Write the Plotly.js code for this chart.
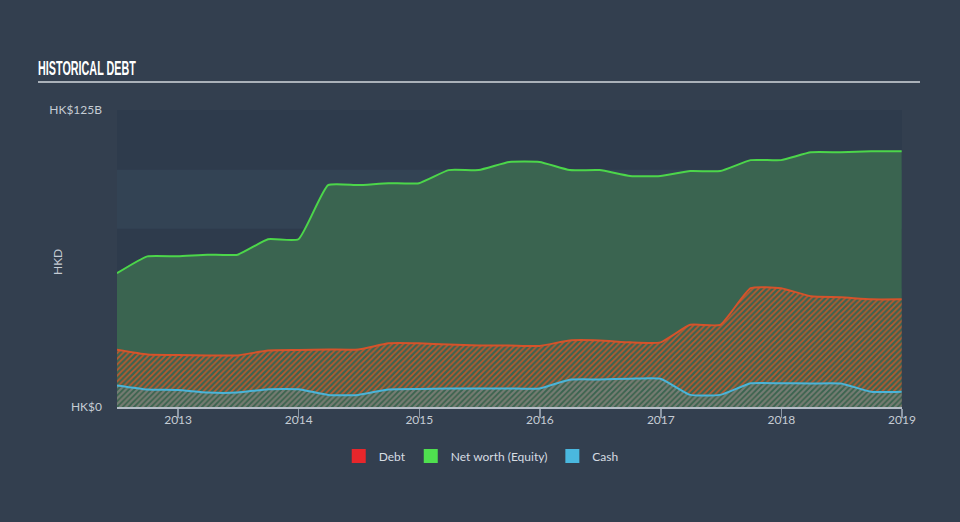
<!DOCTYPE html>
<html>
<head>
<meta charset="utf-8">
<script src="https://cdn.plot.ly/plotly-3.0.1.min.js"></script>
<style>
  html, body { margin: 0; padding: 0; background: #333f4f; }
  #chart { width: 960px; height: 522px; }
</style>
</head>
<body>
<div id="chart"></div>
<script>
// Quarter-end dates
const dates = ['2012-06-30','2012-09-30','2012-12-31','2013-03-31','2013-06-30','2013-09-30','2013-12-31',
  '2014-03-31','2014-06-30','2014-09-30','2014-12-31','2015-03-31','2015-06-30','2015-09-30','2015-12-31',
  '2016-03-31','2016-06-30','2016-09-30','2016-12-31','2017-03-31','2017-06-30','2017-09-30','2017-12-31',
  '2018-03-31','2018-06-30','2018-09-30','2018-12-31'];

// Values in HK$ billions
const equity = [56.3,63.4,63.4,64.1,64.1,70.6,70.6,93.4,93.4,94.2,94.2,99.7,99.7,103.1,103.1,
  99.7,99.7,97.2,97.2,99.3,99.3,103.9,103.9,107.2,107.2,107.6,107.6];
const debt = [24.1,22.1,21.9,21.7,21.7,23.8,24.0,24.2,24.2,26.8,26.8,26.3,25.9,25.9,25.7,
  28.0,28.0,27.2,27.2,34.6,34.6,50.0,50.0,46.6,46.2,45.3,45.3];
const cash = [9.1,7.4,7.2,6.1,6.1,7.5,7.5,5.1,5.1,7.4,7.6,7.8,7.8,7.8,7.8,
  11.5,11.6,11.9,11.9,5.1,5.1,10.0,10.0,9.9,9.9,6.4,6.4];

const yTickVals = [0, 125];
const yTickText = ['HK$0', 'HK$125B'];
const legendNames = ['Debt', 'Net worth (Equity)', 'Cash'];
const legendColors = ['#e8262b', '#4fe04f', '#4ab8df'];

const lineShape = {shape: 'spline', smoothing: 0.45};

const traces = [
  {
    x: dates, y: equity, type: 'scatter', mode: 'lines', fill: 'tozeroy',
    fillcolor: '#3a6450',
    line: Object.assign({color: '#4cd64a', width: 2}, lineShape),
    showlegend: false, hoverinfo: 'skip'
  },
  {
    x: dates, y: debt, type: 'scatter', mode: 'lines', fill: 'tozeroy',
    fillcolor: 'rgba(0,0,0,0)',
    fillpattern: {shape: '/', fgcolor: '#b9592f', bgcolor: 'rgba(0,0,0,0)', size: 4, solidity: 0.45},
    line: Object.assign({color: '#d5532b', width: 2}, lineShape),
    showlegend: false, hoverinfo: 'skip'
  },
  {
    x: dates, y: cash, type: 'scatter', mode: 'lines', fill: 'tozeroy',
    fillcolor: 'rgba(0,0,0,0)',
    fillpattern: {shape: '/', fgcolor: 'rgba(70,150,165,0.6)', bgcolor: 'rgba(0,0,0,0)', size: 4, solidity: 0.5},
    line: Object.assign({color: '#4ab4d8', width: 2}, lineShape),
    showlegend: false, hoverinfo: 'skip'
  }
];

legendNames.forEach((n, i) => {
  traces.push({
    x: [null], y: [null], type: 'scatter', mode: 'markers', name: n,
    marker: {symbol: 'square', size: 14, color: legendColors[i]},
    showlegend: true, hoverinfo: 'skip'
  });
});

const bandDark = '#2e3b4c';
const bandLight = '#334354';
const shapes = [];
for (let k = 0; k < 5; k++) {
  shapes.push({
    type: 'rect', xref: 'paper', yref: 'y', x0: 0, x1: 1, y0: k * 25, y1: (k + 1) * 25,
    fillcolor: (k % 2 === 0) ? bandDark : bandLight, line: {width: 0}, layer: 'below'
  });
}
shapes.push({
  type: 'line', xref: 'paper', yref: 'paper',
  x0: (38 - 117) / 785, x1: (920 - 117) / 785, y0: (407 - 82) / 297, y1: (407 - 82) / 297,
  line: {color: '#aab1b9', width: 2}
});

const tickFont = {family: 'Lato, "Open Sans", sans-serif', size: 12, color: '#c5ccd4'};

const layout = {
  width: 960, height: 522, autosize: false,
  margin: {l: 117, r: 58, t: 110, b: 115, pad: 0},
  paper_bgcolor: '#333f4f',
  plot_bgcolor: bandDark,
  title: {
    text: '<b>HISTORICAL DEBT</b>',
    xref: 'container', yref: 'container',
    x: 38 / 960, xanchor: 'left', y: 1 - 68 / 522, yanchor: 'middle',
    font: {family: '"Liberation Sans", Arial, sans-serif', size: 21, color: '#ffffff'}
  },
  xaxis: {
    type: 'date', range: ['2012-06-30', '2019-01-01'],
    tick0: '2013-01-01', dtick: 'M12', tickformat: '%Y',
    ticks: 'outside', ticklen: 9, tickwidth: 1.5, tickcolor: '#8d98a6',
    showline: true, linecolor: '#b5bec8', linewidth: 1.5,
    showgrid: false, zeroline: false, tickfont: tickFont,
    ticklabelstandoff: -8, fixedrange: true
  },
  yaxis: {
    range: [0, 125], tickvals: yTickVals, ticktext: yTickText,
    showgrid: false, zeroline: false, showline: false, ticks: '',
    tickfont: tickFont, ticklabelstandoff: 14, fixedrange: true
  },
  shapes: shapes,
  annotations: [{
    text: 'HKD', xref: 'paper', yref: 'paper', x: (57 - 117) / 785, y: (407 - 262) / 297,
    showarrow: false, textangle: -90, font: tickFont, xanchor: 'center', yanchor: 'middle'
  }],
  showlegend: true,
  legend: {
    orientation: 'h', x: 0.464, xanchor: 'center', y: (407 - 456) / 297, yanchor: 'middle',
    font: {family: 'Lato, "Open Sans", sans-serif', size: 12, color: '#d6dce2'},
    bgcolor: 'rgba(0,0,0,0)', itemclick: false, itemdoubleclick: false
  },
  hovermode: false
};

Plotly.newPlot('chart', traces, layout, {displayModeBar: false, staticPlot: true}).then(gd => {
  // Condense the title horizontally to mimic the narrow display face
  const t = gd.querySelector('.gtitle');
  if (t) {
    const x = parseFloat(t.getAttribute('x')) || 38;
    const w = t.getComputedTextLength ? t.getComputedTextLength() : 0;
    const s = w > 0 ? 98 / w : 0.6;
    const prev = t.getAttribute('transform') || '';
    t.setAttribute('transform', prev + ' translate(' + x + ',0) scale(' + s + ',1) translate(' + (-x) + ',0)');
  }
});
</script>
</body>
</html>
